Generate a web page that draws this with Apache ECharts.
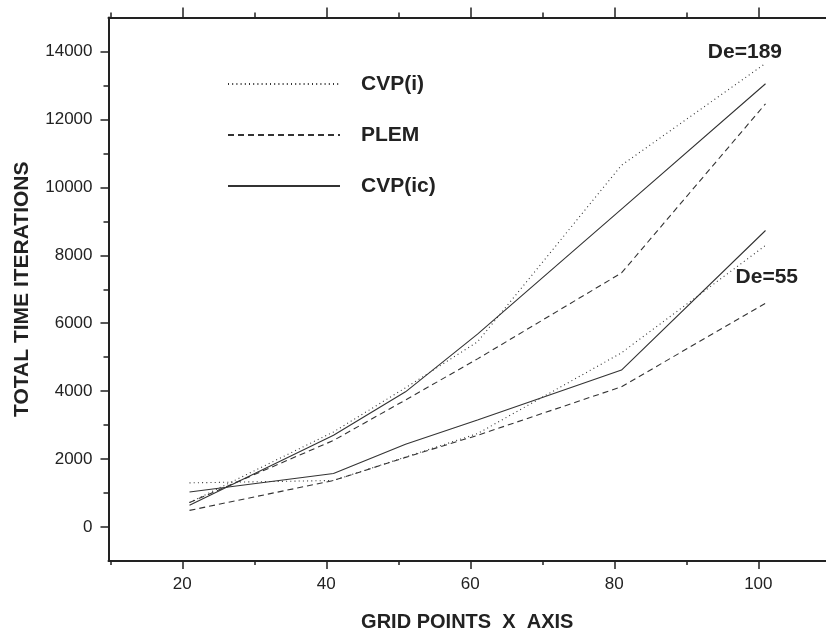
<!DOCTYPE html>
<html><head><meta charset="utf-8">
<script src="https://cdn.jsdelivr.net/npm/echarts@6/dist/echarts.min.js"></script>
<style>html,body{margin:0;padding:0;background:#fff}#c{width:826px;height:634px}</style>
</head><body><div id="c"></div>
<script>
// grid points (x) at which values were computed
const gridPoints = [21, 41, 51, 61, 81, 101];
// De = 189
const cvpI_189  = [720, 2800, 4100, 5450, 10650, 13650];
const plem_189  = [720, 2550, 3740, 4950, 7480, 12460];
const cvpIc_189 = [640, 2700, 3980, 5680, 9360, 13050];
// De = 55
const cvpI_55   = [1300, 1370, 2060, 2750, 5130, 8290];
const plem_55   = [490, 1370, 2050, 2700, 4130, 6590];
const cvpIc_55  = [1030, 1575, 2440, 3150, 4620, 8730];
// ticks
const xMajorTicks = [20, 40, 60, 80, 100];
const xMinorTicks = [10, 30, 50, 70, 90];
const yMajorTicks = [0, 2000, 4000, 6000, 8000, 10000, 12000, 14000];
const yMinorTicks = [1000, 3000, 5000, 7000, 9000, 11000, 13000];
const seriesNames = ['CVP(i)', 'PLEM', 'CVP(ic)'];

const FONT = 'Liberation Sans, Arial, Helvetica, sans-serif';
const INK = '#222';
const styles = {
  'CVP(i)': {type: [1, 3.2], width: 1.1},
  'PLEM': {type: [6, 4], width: 1.1},
  'CVP(ic)': {type: 'solid', width: 1.1}
};
function pairs(vals){ return gridPoints.map((x,i)=>[x, vals[i]]); }
function mk(name, vals){
  return {name, type:'line', data: pairs(vals), symbol:'none', silent:true,
    lineStyle:{color:'#333', width:styles[name].width, type:styles[name].type, cap:'butt'},
    itemStyle:{color:'#333'}, animation:false};
}
const xBase = {type:'value', min:9.75, max:109.4, interval:10, splitLine:{show:false}};
const yBase = {type:'value', min:-1000, max:15000, interval:1000, splitLine:{show:false}};
const axLine = {show:true, onZero:false, lineStyle:{color:INK, width:2}};
const noLine = {show:false, onZero:false};

const chart = echarts.init(document.getElementById('c'));
chart.setOption({
  animation:false,
  backgroundColor:'#fff',
  grid:{left:108.5, right:0, top:17.5, bottom:73, containLabel:false, outerBoundsMode:'none'},
  legend:{data:seriesNames, orient:'vertical', left:222, top:68.5, itemWidth:112, itemHeight:14, itemGap:30,
    selectedMode:false, itemStyle:{opacity:0, borderWidth:0},
    textStyle:{fontFamily:FONT, fontSize:21, fontWeight:'bold', color:INK, padding:[0,0,0,16]}},
  xAxis:[
    Object.assign({}, xBase, {position:'bottom', axisLine:axLine,
      axisTick:{show:true, customValues:xMajorTicks, length:8, lineStyle:{color:INK, width:1.5}},
      axisLabel:{show:true, customValues:xMajorTicks, margin:15, fontFamily:FONT, fontSize:17, color:INK},
      name:'GRID POINTS  X  AXIS', nameLocation:'middle', nameGap:51,
      nameTextStyle:{fontFamily:FONT, fontSize:20, fontWeight:'bold', color:INK}}),
    Object.assign({}, xBase, {position:'bottom', axisLine:noLine,
      axisTick:{show:true, customValues:xMinorTicks, length:4, lineStyle:{color:INK, width:1.5}},
      axisLabel:{show:false}}),
    Object.assign({}, xBase, {position:'top', axisLine:axLine,
      axisTick:{show:true, customValues:xMajorTicks, length:10, lineStyle:{color:INK, width:1.5}},
      axisLabel:{show:false}}),
    Object.assign({}, xBase, {position:'top', axisLine:noLine,
      axisTick:{show:true, customValues:xMinorTicks, length:5, lineStyle:{color:INK, width:1.5}},
      axisLabel:{show:false}})
  ],
  yAxis:[
    Object.assign({}, yBase, {position:'left', axisLine:axLine,
      axisTick:{show:true, customValues:yMajorTicks, length:8, lineStyle:{color:INK, width:1.5}},
      axisLabel:{show:true, customValues:yMajorTicks, margin:16, fontFamily:FONT, fontSize:17, color:INK,
        formatter:(v)=>String(v)},
      name:'TOTAL TIME ITERATIONS', nameLocation:'middle', nameGap:76, nameRotate:90,
      nameTextStyle:{fontFamily:FONT, fontSize:21, fontWeight:'bold', color:INK}}),
    Object.assign({}, yBase, {position:'left', axisLine:noLine,
      axisTick:{show:true, customValues:yMinorTicks, length:5, lineStyle:{color:INK, width:1.5}},
      axisLabel:{show:false}})
  ],
  series:[
    mk('CVP(i)', cvpI_189), mk('PLEM', plem_189), mk('CVP(ic)', cvpIc_189),
    mk('CVP(i)', cvpI_55), mk('PLEM', plem_55), mk('CVP(ic)', cvpIc_55)
  ],
  graphic:[
    {type:'text', x:782, y:52, style:{text:'De=189', fontFamily:FONT, fontSize:21, fontWeight:'bold', fill:INK, align:'right', verticalAlign:'middle'}},
    {type:'text', x:798, y:277, style:{text:'De=55', fontFamily:FONT, fontSize:21, fontWeight:'bold', fill:INK, align:'right', verticalAlign:'middle'}}
  ]
});
</script></body></html>
